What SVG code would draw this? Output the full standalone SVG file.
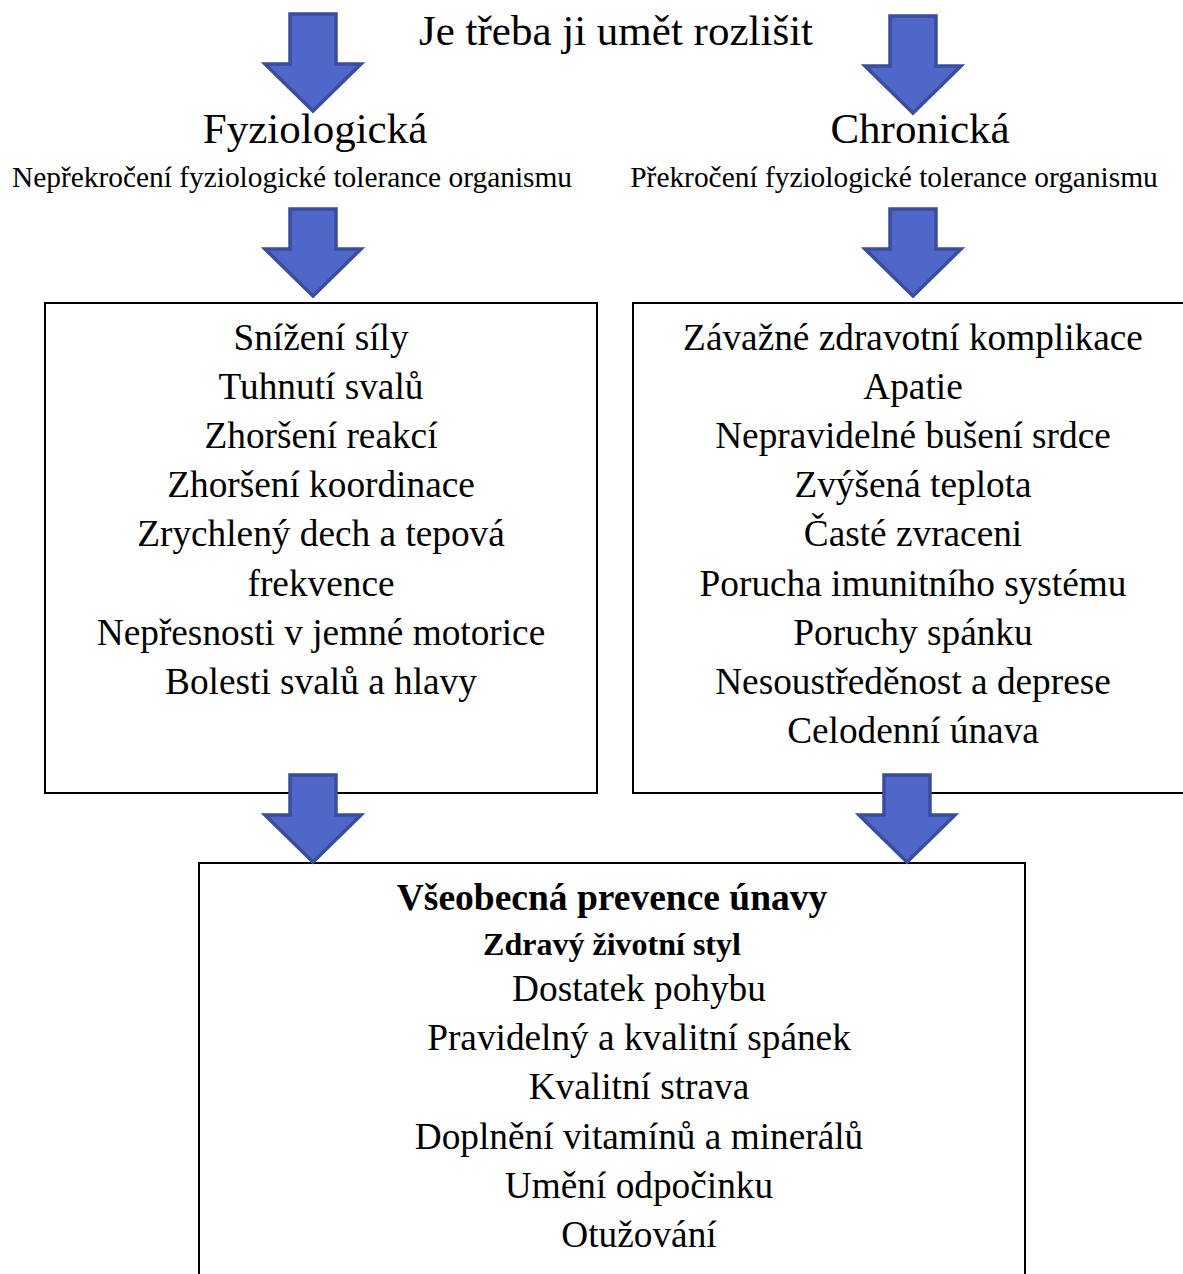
<svg xmlns="http://www.w3.org/2000/svg" width="1183" height="1274" viewBox="0 0 1183 1274">
<style>
.t{font-family:"Liberation Serif","Times New Roman",serif;fill:#000;text-anchor:middle}
.h{font-size:43px}
.s{font-size:29.4px}
.b{font-size:37.3px}
.bb{font-size:37.5px;font-weight:bold}
.bs{font-size:32px;font-weight:bold}
.box{fill:#fff;stroke:#000;stroke-width:2}
.arr{fill:#4F67C8;stroke:#3A4E9C;stroke-width:3.5;stroke-linejoin:miter}
</style>
<defs>
<path id="ar" d="M-23,0 H23 V50 H48 L0,97 L-48,50 H-23 Z"/>
<path id="ar2" d="M-23,0 H23 V40 H48 L0,87 L-48,40 H-23 Z"/>
</defs>
<rect width="1183" height="1274" fill="#fff"/>
<g id="title"><text class="t h" x="616" y="45">Je třeba ji umět rozlišit</text></g>
<g id="fyz">
<text class="t h" x="315" y="143">Fyziologická</text>
<text class="t s" x="292" y="187">Nepřekročení fyziologické tolerance organismu</text>
</g>
<g id="chron">
<text class="t h" x="920" y="143">Chronická</text>
<text class="t s" x="894" y="187">Překročení fyziologické tolerance organismu</text>
</g>
<g id="leftbox">
<rect class="box" x="45" y="303" width="552" height="490"/>
<text class="t b" x="321" y="350">Snížení síly</text>
<text class="t b" x="321" y="399">Tuhnutí svalů</text>
<text class="t b" x="321" y="448">Zhoršení reakcí</text>
<text class="t b" x="321" y="497">Zhoršení koordinace</text>
<text class="t b" x="321" y="546">Zrychlený dech a tepová</text>
<text class="t b" x="321" y="596">frekvence</text>
<text class="t b" x="321" y="645">Nepřesnosti v jemné motorice</text>
<text class="t b" x="321" y="694">Bolesti svalů a hlavy</text>
</g>
<g id="rightbox">
<rect class="box" x="633" y="303" width="560" height="490"/>
<text class="t b" x="913" y="350">Závažné zdravotní komplikace</text>
<text class="t b" x="913" y="399">Apatie</text>
<text class="t b" x="913" y="448">Nepravidelné bušení srdce</text>
<text class="t b" x="913" y="497">Zvýšená teplota</text>
<text class="t b" x="913" y="546">Časté zvraceni</text>
<text class="t b" x="913" y="596">Porucha imunitního systému</text>
<text class="t b" x="913" y="645">Poruchy spánku</text>
<text class="t b" x="913" y="694">Nesoustředěnost a deprese</text>
<text class="t b" x="913" y="743">Celodenní únava</text>
</g>
<g id="bottombox">
<rect class="box" x="199" y="863" width="826" height="430"/>
<text class="t bb" x="612" y="910">Všeobecná prevence únavy</text>
<text class="t bs" x="612" y="955">Zdravý životní styl</text>
<text class="t b" x="639" y="1001">Dostatek pohybu</text>
<text class="t b" x="639" y="1050">Pravidelný a kvalitní spánek</text>
<text class="t b" x="639" y="1099">Kvalitní strava</text>
<text class="t b" x="639" y="1149">Doplnění vitamínů a minerálů</text>
<text class="t b" x="639" y="1198">Umění odpočinku</text>
<text class="t b" x="639" y="1247">Otužování</text>
</g>
<g id="connectors">
<use href="#ar" class="arr" transform="translate(313,14)"/>
<use href="#ar" class="arr" transform="translate(913,16)"/>
<use href="#ar2" class="arr" transform="translate(313,209)"/>
<use href="#ar2" class="arr" transform="translate(913,209)"/>
<use href="#ar2" class="arr" transform="translate(313,775)"/>
<use href="#ar2" class="arr" transform="translate(907,775)"/>
</g>
</svg>
